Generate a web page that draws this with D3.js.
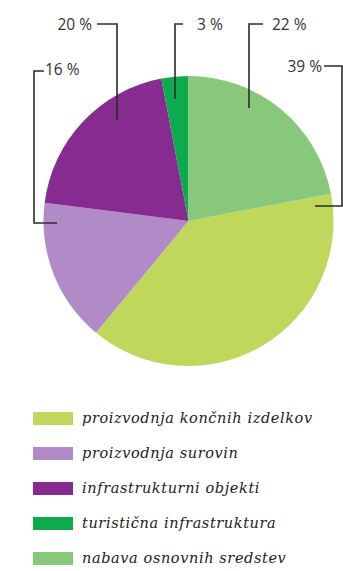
<!DOCTYPE html>
<html>
<head>
<meta charset="utf-8">
<script src="https://cdn.jsdelivr.net/npm/d3@7"></script>
<style>
  html, body { margin: 0; padding: 0; background: #fff; }
  svg { display: block; }
</style>
</head>
<body>
<div id="chart"></div>
<script>
// categories in legend order
var categories = [
    "proizvodnja končnih izdelkov",
    "proizvodnja surovin",
    "infrastrukturni objekti",
    "turistična infrastruktura",
    "nabava osnovnih sredstev"
];
var values = [39, 16, 20, 3, 22];
var colors = ["#bfd85c", "#b18bc7", "#862b90", "#0daa4e", "#88c87a"];
var valueLabels = ["39 %", "16 %", "20 %", "3 %", "22 %"];

// callout layout (label anchor + elbow line), same order as categories
var callouts = [
    { tx: 322, ty: 67, anchor: "end",   pts: [[324, 66], [342, 66], [342, 206], [315, 206]] },
    { tx: 45,  ty: 70, anchor: "start", pts: [[44, 71], [34, 71], [34, 223], [57, 223]] },
    { tx: 92,  ty: 25, anchor: "end",   pts: [[97, 24], [117, 24], [117, 120]] },
    { tx: 197, ty: 25, anchor: "start", pts: [[183, 24], [175, 24], [175, 99]] },
    { tx: 272, ty: 25, anchor: "start", pts: [[263, 24], [249, 24], [249, 108]] }
];

var width = 343, height = 571;
var cx = 188.5, cy = 221, radius = 145;

var svg = d3.select("#chart").append("svg")
    .attr("width", width)
    .attr("height", height);

// pie starts with the last slice (nabava) at 12 o'clock
var total = d3.sum(values);
var offset = values[values.length - 1] / total * 2 * Math.PI;

var pie = d3.pie()
    .sort(null)
    .value(function(d){ return d; })
    .startAngle(offset)
    .endAngle(offset + 2 * Math.PI);

var arc = d3.arc()
    .innerRadius(0)
    .outerRadius(radius);

var g = svg.append("g")
    .attr("transform", "translate(" + cx + "," + cy + ")");

g.selectAll("path.slice")
    .data(pie(values))
    .enter().append("path")
    .attr("class", "slice")
    .attr("d", arc)
    .attr("fill", function(d, i){ return colors[i]; });

// leader lines
var line = d3.line();
svg.selectAll("path.leader")
    .data(callouts)
    .enter().append("path")
    .attr("class", "leader")
    .attr("d", function(d){ return line(d.pts); })
    .attr("fill", "none")
    .attr("stroke", "#2b2b2b")
    .attr("stroke-width", 1.6);

svg.selectAll("text.pct")
    .data(callouts)
    .enter().append("text")
    .attr("class", "pct")
    .attr("x", function(d){ return d.tx; })
    .attr("y", function(d){ return d.ty; })
    .attr("dy", "0.35em")
    .attr("text-anchor", function(d){ return d.anchor; })
    .attr("font-family", "'Open Sans', 'Noto Sans', sans-serif")
    .attr("font-size", 15.5)
    .attr("fill", "#333")
    .text(function(d, i){ return valueLabels[i]; });

// legend
var legendY = d3.scaleLinear().domain([0, 1]).range([418.5, 453.5]);

var legend = svg.selectAll("g.legend")
    .data(categories)
    .enter().append("g")
    .attr("class", "legend")
    .attr("transform", function(d, i){ return "translate(33," + legendY(i) + ")"; });

legend.append("rect")
    .attr("x", 0)
    .attr("y", -6.5)
    .attr("width", 40)
    .attr("height", 13)
    .attr("fill", function(d, i){ return colors[i]; });

legend.append("text")
    .attr("x", 49)
    .attr("y", 0)
    .attr("dy", "0.32em")
    .attr("font-family", "'DejaVu Serif', serif")
    .attr("font-style", "italic")
    .attr("font-size", 14.5)
    .attr("letter-spacing", 0.6)
    .attr("fill", "#222")
    .text(function(d){ return d; });
</script>
</body>
</html>
